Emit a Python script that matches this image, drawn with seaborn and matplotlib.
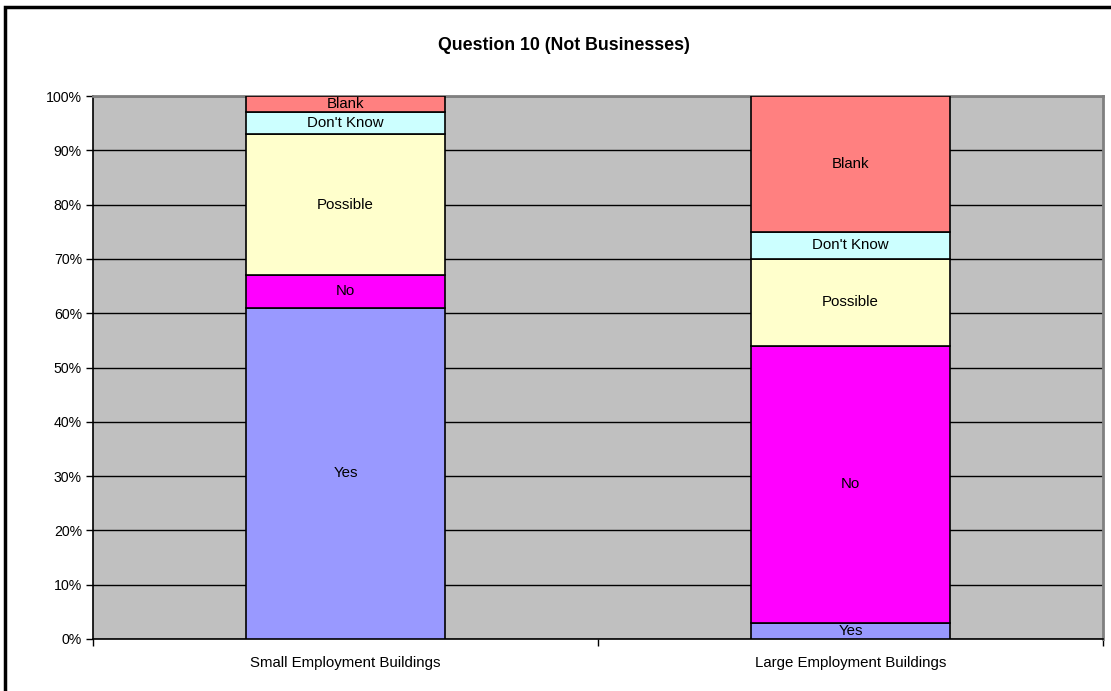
import numpy as np
import pandas as pd
import seaborn as sns
import matplotlib
matplotlib.use("Agg")
import matplotlib.pyplot as plt
from matplotlib.patches import Rectangle
from matplotlib.ticker import PercentFormatter, FixedLocator

# data (share of answers)
buildings = ["Small Employment Buildings", "Large Employment Buildings"]
answers = ["Yes", "No", "Possible", "Don't Know", "Blank"]
yes = [0.61, 0.03]
no = [0.06, 0.51]
possible = [0.26, 0.16]
dont_know = [0.04, 0.05]
blank = [0.03, 0.25]
colours = ["#9999FF", "#FF00FF", "#FFFFCC", "#CCFFFF", "#FF8080"]

sns.set_theme(style="white")
plt.rcParams["font.family"] = ["Liberation Sans", "DejaVu Sans"]

fig = plt.figure(figsize=(11.11, 6.91), dpi=100)
ax = fig.add_axes([93/1111, 1-639/691, (1103-93)/1111, (639-96)/691])
ax.set_facecolor("#C0C0C0")

df = pd.DataFrame({"building": buildings, "Yes": yes, "No": no, "Possible": possible,
                   "Don't Know": dont_know, "Blank": blank})

bottom = np.zeros(len(buildings))
for ans, col in zip(answers, colours):
    sns.barplot(data=df, x="building", y=ans, order=buildings, color=col, width=0.395,
                bottom=bottom, edgecolor="black", linewidth=1.2, saturation=1, ax=ax, zorder=3)
    cont = ax.containers[-1]
    ax.bar_label(cont, labels=[ans] * len(cont), label_type="center", fontsize=10.8, color="black")
    bottom = bottom + df[ans].to_numpy()

ax.set_xlim(-0.5, 1.5)
ax.set_ylim(0, 1)
ax.yaxis.set_major_locator(FixedLocator(np.arange(0, 1.01, 0.1)))
ax.yaxis.set_major_formatter(PercentFormatter(1.0, decimals=0))
ax.yaxis.grid(True, color="black", linewidth=1)
ax.set_axisbelow(True)
ax.set_xlabel("")
ax.set_ylabel("")

ax.tick_params(axis="y", which="major", direction="out", length=5, width=1, color="black",
               left=True, pad=3, labelsize=10.2, labelcolor="black")
ax.tick_params(axis="x", which="major", length=0, pad=12, labelsize=10.8, labelcolor="black")
ax.xaxis.set_minor_locator(FixedLocator([-0.5, 0.5, 1.5]))
ax.tick_params(axis="x", which="minor", bottom=True, direction="out", length=5, width=1, color="black")

for side in ["left", "bottom"]:
    ax.spines[side].set_color("black")
    ax.spines[side].set_linewidth(1.2)
for side in ["top", "right"]:
    ax.spines[side].set_visible(True)
    ax.spines[side].set_color("#808080")
    ax.spines[side].set_linewidth(2)

fig.text(564/1111, 1-45/691, "Question 10 (Not Businesses)", ha="center", va="center",
         fontsize=12.8, fontweight="bold", color="black")

# frame of the chart object (cropped at right and bottom)
fig.patches.append(Rectangle((5/1111, -0.2), 1.5, 1.2 - 6.5/691, transform=fig.transFigure,
                             fill=False, edgecolor="black", linewidth=2.5))

fig.savefig("out.png", dpi=100)
